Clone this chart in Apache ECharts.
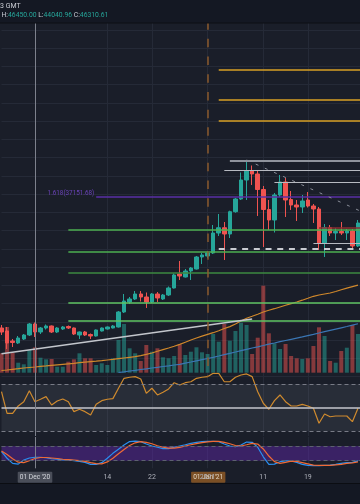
<!DOCTYPE html>
<html><head><meta charset="utf-8">
<script src="https://cdn.jsdelivr.net/npm/echarts@6/dist/echarts.min.js"></script>
<style>html,body{margin:0;padding:0;background:#1a1e29;}#c{width:360px;height:504px;}</style>
</head><body><div id="c"></div>
<script>
const dates = ['2020-11-25','2020-11-26','2020-11-27','2020-11-28','2020-11-29','2020-11-30',
'2020-12-01','2020-12-02','2020-12-03','2020-12-04','2020-12-05','2020-12-06','2020-12-07','2020-12-08','2020-12-09','2020-12-10',
'2020-12-11','2020-12-12','2020-12-13','2020-12-14','2020-12-15','2020-12-16','2020-12-17','2020-12-18','2020-12-19','2020-12-20',
'2020-12-21','2020-12-22','2020-12-23','2020-12-24','2020-12-25','2020-12-26','2020-12-27','2020-12-28','2020-12-29','2020-12-30','2020-12-31',
'2021-01-01','2021-01-02','2021-01-03','2021-01-04','2021-01-05','2021-01-06','2021-01-07','2021-01-08','2021-01-09','2021-01-10',
'2021-01-11','2021-01-12','2021-01-13','2021-01-14','2021-01-15','2021-01-16','2021-01-17','2021-01-18','2021-01-19','2021-01-20',
'2021-01-21','2021-01-22','2021-01-23','2021-01-24','2021-01-25','2021-01-26','2021-01-27','2021-01-28','2021-01-29'];

const opens = [19164,18753,17383,17109,17657,18205,19712,18616,19164,19438,
18616,19027,19370,19164,18205,18616,18274,18068,18753,19027,
19164,19301,21356,22726,23137,23822,23411,22726,23822,23137,
23685,24644,26562,26151,26973,27247,28891,29028,29439,32179,
32901,32042,35097,36837,39440,40673,40262,38138,35398,33960,
37385,39166,36768,36015,35741,36700,35878,35467,30809,32932,
32179,32384,32179,32453,30398];
const highs = [19575,19301,17657,18068,18342,19849,19917,19301,19643,19507,
19301,19438,19507,19232,18684,18753,18410,18958,19232,19370,
19575,21493,23822,23411,24233,24233,24028,23959,24096,23822,
24850,26631,28343,27247,27521,29028,29439,29713,33275,34782,
33686,35234,36974,40467,41906,41426,40810,38618,36700,37659,
40125,39714,37933,36700,37385,37796,36152,35741,33412,33275,
32864,33686,32727,32727,33960];
const lows = [18205,16287,16561,16972,17520,18068,17931,18342,18958,18479,
18479,18890,19027,18205,17657,18068,17657,17999,18684,18958,
19096,19232,21219,22452,23000,22795,21904,22589,22726,23000,
23548,24576,25740,26083,25740,27178,27932,28754,29302,31768,
28480,31494,34960,36700,36700,38755,34508,30261,32590,32247,
37111,34371,35330,33823,34919,35672,33549,29850,28891,31768,
31220,31905,31220,29987,30261];
const closes = [18616,17109,17177,17794,18205,19712,18616,19164,19438,18616,
19164,19301,19164,18342,18616,18205,18068,18890,19164,19301,
19438,21356,22863,23137,23822,23411,22726,23822,23274,23685,
24644,26425,26288,26973,27384,28891,29165,29439,32179,32901,
32042,35097,36837,39440,40673,40262,38138,35398,33960,37385,
39166,36700,36015,35741,36563,35878,35467,30809,32932,32179,
32384,32179,32453,30398,33549];
const volumes = [38800,91400,39400,20000,16800,45400,50800,30000,26800,27400,
12000,12000,22000,26800,38800,28800,28800,15400,18800,15400,
28800,65400,97400,48800,38800,23400,55400,42000,48800,30800,
28800,33400,56400,35400,42000,50800,40800,37400,77400,62000,
97400,64000,83400,100000,95400,37400,70000,174000,78800,58800,
47400,57400,33400,28800,27400,28800,53400,90800,73400,23400,
20000,43400,50000,95400,77400];
const ma100 = [13341,13410,13506,13588,13684,13752,13821,13903,13972,14054,
14122,14191,14259,14328,14410,14492,14561,14629,14698,14780,
14862,14958,15054,15150,15246,15383,15547,15739,15972,16205,
16424,16657,16917,17219,17520,17794,18041,18287,18520,18780,
19096,19356,19712,20123,20493,20769,21054,21356,21589,21808,
22041,22274,22507,22726,22973,23233,23507,23685,23822,23959,
24165,24398,24617,24836,25028];
const ma200 = [null,null,null,null,null,null,null,null,null,null,
null,null,null,null,null,null,null,null,null,null,
null,13068,13163,13273,13369,13479,13574,13684,13780,13890,
13985,14095,14191,14355,14506,14670,14835,14986,15150,15328,
15520,15698,15876,16068,16246,16424,16588,16766,16945,17109,
17287,17452,17616,17781,17945,18123,18287,18479,18657,18835,
19013,19191,19370,19561,19749];
const rsi = [63.5,45.2,45.2,51.4,55.0,64.3,55.0,57.1,59.3,52.2,
55.6,57.3,55.0,46.6,48.6,46.6,43.8,52.8,55.9,57.1,
57.6,66.4,74.8,75.7,76.2,74.2,62.1,66.4,60.7,63.0,
65.8,71.1,69.2,71.1,71.9,74.8,75.7,76.2,79.0,79.0,
71.9,71.9,75.7,77.6,78.5,76.2,63.5,53.7,48.6,55.9,
60.7,55.0,51.4,51.4,52.8,51.4,49.5,36.8,44.6,42.3,
42.9,42.9,42.9,38.1,49.5];
const stochK = [57,30,9,6,23,31,34,34,32,28,
26,23,23,20,17,13,5,5,12,30,
50,67,84,98,100,98,88,80,75,69,
69,75,80,85,91,95,98,99,99,98,
88,80,77,84,96,95,75,36,5,6,
16,19,19,13,5,1,0,0,1,2,
5,9,12,13,19];
const stochD = [60,45,28,14,12,20,29,33,33,31,
29,26,24,22,20,17,12,8,7,15,
30,48,66,82,93,98,95,89,81,75,
71,71,74,80,85,90,94,97,99,99,
95,89,82,80,85,91,88,68,39,16,
9,13,18,17,12,7,2,1,1,1,
3,5,9,11,15];

const tickIndex = [6,19,27,37,47,55];
const tickText = ['Dec','14','22','2021','11','19'];

const fibLevel = 37151.68;
const greenLevels = [32590,29617,26740,22685,20219];
const greenColors = ['#4caf50','#4caf50','#3d8a40','#5fc463','#5fc463'];
const orangeLevels = [54510,50400,47523];
const greyRays = [[41,42084,'#8f939c',2],[40,40769,'#b7bac1',1],[49,39125,'#b7bac1',1],[56,30767,'#b7bac1',1]];
const redRay = [57,32960];
const dashedLevel = [39,29987];
const trendLine = [[0,15629],[45,20397]];
const diagLine = [[44,42180],[65,34988]];
const crossIdx = 6, sessionIdx = 37;

const UP='#26a69a', DOWN='#ef5350', BG='#1a1e29', GRID='#252a37';
const FONT='Roboto';

const chart = echarts.init(document.getElementById('c'), null, {width:360, height:504});
const N = dates.length;
const STEP = 5.57, L0 = 1.5;
const gx = {left: L0, right: 360 - L0 - STEP*(N-1)};

const candles = opens.map((o,i)=>[o, closes[i], lows[i], highs[i]]);
const volData = volumes.map((v,i)=>({value:v, itemStyle:{color: closes[i]>=opens[i] ? 'rgba(38,166,154,0.5)' : 'rgba(239,83,80,0.5)'}}));

function ray(i, p, color, width, type){
  return [{coord:[i,p], lineStyle:{color:color, width:width, type:type||'solid'}}, {coord:[N-1,p]}];
}
const mainLines = [];
greenLevels.forEach((p,k)=>mainLines.push(ray(12,p,greenColors[k],1.5)));
orangeLevels.forEach(p=>mainLines.push(ray(39,p,'#d9a124',1.5)));
mainLines.push(ray(17,fibLevel,'#5a2fa6',1.5));
greyRays.forEach(g=>mainLines.push(ray(g[0],g[1],g[2],g[3])));
mainLines.push(ray(redRay[0],redRay[1],'#8b2f30',1.5));
mainLines.push(ray(dashedLevel[0],dashedLevel[1],'#c9cbd1',2,[6,5.7]));
mainLines.push([{coord:trendLine[0], lineStyle:{color:'#c3c6cc',width:1.5,type:'solid'}},{coord:trendLine[1]}]);
mainLines.push([{coord:diagLine[0], lineStyle:{color:'#8a8e99',width:1,type:[3,7]}},{coord:diagLine[1]}]);
mainLines.push({xAxis:crossIdx, lineStyle:{color:'#7d818c',width:1,type:'solid'}});
mainLines.push({xAxis:sessionIdx, lineStyle:{color:'#8a5a2c',width:1.5,type:[8.5,9.2],dashOffset:7}});

const catAxis = (gi, showLabels, split) => ({
  type:'category', gridIndex:gi, data:dates, boundaryGap:false,
  axisLine:{show:false}, axisTick:{show:false},
  axisLabel: showLabels ? {show:true, color:'#aeb1ba', fontSize:7, fontFamily:FONT, margin:5,
     interval:(idx)=>tickIndex.indexOf(idx)>=0,
     formatter:(v,idx)=>{const k=tickIndex.indexOf(idx); return k>=0?tickText[k]:'';}} : {show:false},
  splitLine: split ? {show:true, interval:(idx)=>tickIndex.indexOf(idx)>=0, lineStyle:{color:GRID,width:1}} : {show:false}
});

const option = {
  animation:false,
  backgroundColor:BG,
  grid:[
    Object.assign({top:11.68, height:364.96, outerBoundsMode:'none', containLabel:false}, gx),
    Object.assign({top:272.7, height:100, outerBoundsMode:'none', containLabel:false}, gx),
    Object.assign({top:373, height:63, outerBoundsMode:'none', containLabel:false}, gx),
    Object.assign({top:437, height:31.3, outerBoundsMode:'none', containLabel:false}, gx)
  ],
  xAxis:[catAxis(0,false,true), catAxis(1,false,false), catAxis(2,false,true), catAxis(3,true,true)],
  yAxis:[
    {type:'value', gridIndex:0, min:12500, max:62500, interval:2500, axisLabel:{show:false}, axisLine:{show:false}, axisTick:{show:false}, splitLine:{show:true, lineStyle:{color:GRID}}},
    {type:'value', gridIndex:1, min:0, max:200000, show:false},
    {type:'value', gridIndex:2, min:26.0, max:79.3, show:false},
    {type:'value', gridIndex:3, min:-11, max:116.7, show:false}
  ],
  series:[
    {type:'bar', xAxisIndex:1, yAxisIndex:1, data:volData, barWidth:4, silent:true, clip:false},
    {type:'candlestick', xAxisIndex:0, yAxisIndex:0, data:candles, barWidth:4, clip:false, silent:true,
      itemStyle:{color:UP, color0:DOWN, borderColor:UP, borderColor0:DOWN, borderWidth:1},
      markLine:{silent:true, symbol:['none','none'], label:{show:false}, animation:false, lineStyle:{type:'solid'}, data:mainLines}},
    {type:'line', xAxisIndex:0, yAxisIndex:0, data:ma100, symbol:'none', silent:true, lineStyle:{color:'#d0882b', width:1.2}},
    {type:'line', xAxisIndex:0, yAxisIndex:0, data:ma200, symbol:'none', silent:true, lineStyle:{color:'#3a76b4', width:1.2}},
    {type:'line', xAxisIndex:2, yAxisIndex:2, data:rsi, symbol:'none', silent:true, lineStyle:{color:'#cf8a2e', width:1.2},
      markArea:{silent:true, itemStyle:{color:'rgba(140,145,160,0.13)'}, data:[[{yAxis:30},{yAxis:70}]]},
      markLine:{silent:true, symbol:['none','none'], label:{show:false}, data:[
        {yAxis:70, lineStyle:{color:'#787b86', width:1, type:[4,3]}},
        {yAxis:30, lineStyle:{color:'#787b86', width:1, type:[4,3]}},
        {yAxis:50, lineStyle:{color:'#c4c6cc', width:1.5, type:'solid'}},
        {xAxis:crossIdx, lineStyle:{color:'#7d818c', width:1, type:'solid'}}
      ]}},
    {type:'line', xAxisIndex:3, yAxisIndex:3, data:stochK, symbol:'none', silent:true, lineStyle:{color:'#2a8ff0', width:1.2},
      markArea:{silent:true, itemStyle:{color:'rgba(98,39,176,0.45)'}, data:[[{yAxis:20},{yAxis:80}]]},
      markLine:{silent:true, symbol:['none','none'], label:{show:false}, data:[
        {yAxis:80, lineStyle:{color:'#5d6070', width:1, type:[4,3]}},
        {yAxis:20, lineStyle:{color:'#5d6070', width:1, type:[4,3]}},
        {xAxis:crossIdx, lineStyle:{color:'#7d818c', width:1, type:'solid'}}
      ]}},
    {type:'line', xAxisIndex:3, yAxisIndex:3, data:stochD, symbol:'none', silent:true, lineStyle:{color:'#ef6a36', width:1.2}}
  ]
};
chart.setOption(option);

const xDec = chart.convertToPixel({xAxisIndex:3}, crossIdx);
const xJan = chart.convertToPixel({xAxisIndex:3}, sessionIdx);
const fibPt = chart.convertToPixel({gridIndex:0}, [17, fibLevel]);

function txt(x,y,text,fill,size,align,z,extra){
  return Object.assign({type:'text', x:x, y:y, z:z||100, silent:true,
    style:{text:text, fill:fill, fontSize:size, fontFamily:FONT, align:align||'left', textAlign:align||'left', verticalAlign:'middle', textVerticalAlign:'middle'}}, extra||{});
}
chart.setOption({graphic:[
  {type:'rect', z:90, silent:true, shape:{x:0,y:0,width:360,height:23}, style:{fill:'#141823'}},
  {type:'rect', z:91, silent:true, shape:{x:0,y:22.5,width:360,height:1}, style:{fill:'#0c0e14'}},
  txt(0,6,'3 GMT','#c9ccd4',7,'left',95),
  {type:'text', x:1.5, y:15.5, z:95, silent:true, style:{
     text:'{w|H:}{g|46450.00} {w|L:}{g|44040.96} {w|C:}{g|46310.61}',
     fontSize:6.8, fontFamily:FONT, verticalAlign:'middle', textVerticalAlign:'middle',
     rich:{w:{fill:'#c9ccd4', color:'#c9ccd4', fontSize:6.8, fontFamily:FONT}, g:{fill:'#26a69a', color:'#26a69a', fontSize:6.8, fontFamily:FONT}}}},
  {type:'rect', z:90, silent:true, shape:{x:0,y:483.5,width:360,height:21}, style:{fill:'#141823'}},
  {type:'rect', z:91, silent:true, shape:{x:0,y:483,width:360,height:1}, style:{fill:'#0b0d12'}},
  {type:'rect', z:-5, silent:true, shape:{x:xJan-16.5,y:471.7,width:34.3,height:11,r:1}, style:{fill:'#7b4f25'}},
  txt(xJan+0.6,477.2,"01 Jan '21",'#e3d6c2',6.6,'center',-4),
  {type:'rect', z:100, silent:true, shape:{x:xDec-17.2,y:471.7,width:34.6,height:11,r:1}, style:{fill:'#4a4e59'}},
  txt(xDec+0.1,477.2,"01 Dec '20",'#d7d9df',6.6,'center',101),
  txt(fibPt[0]-2,fibPt[1]-3.4,'1.618(37151.68)','#6a42b8',6.3,'right',60)
]});
</script>
</body></html>
